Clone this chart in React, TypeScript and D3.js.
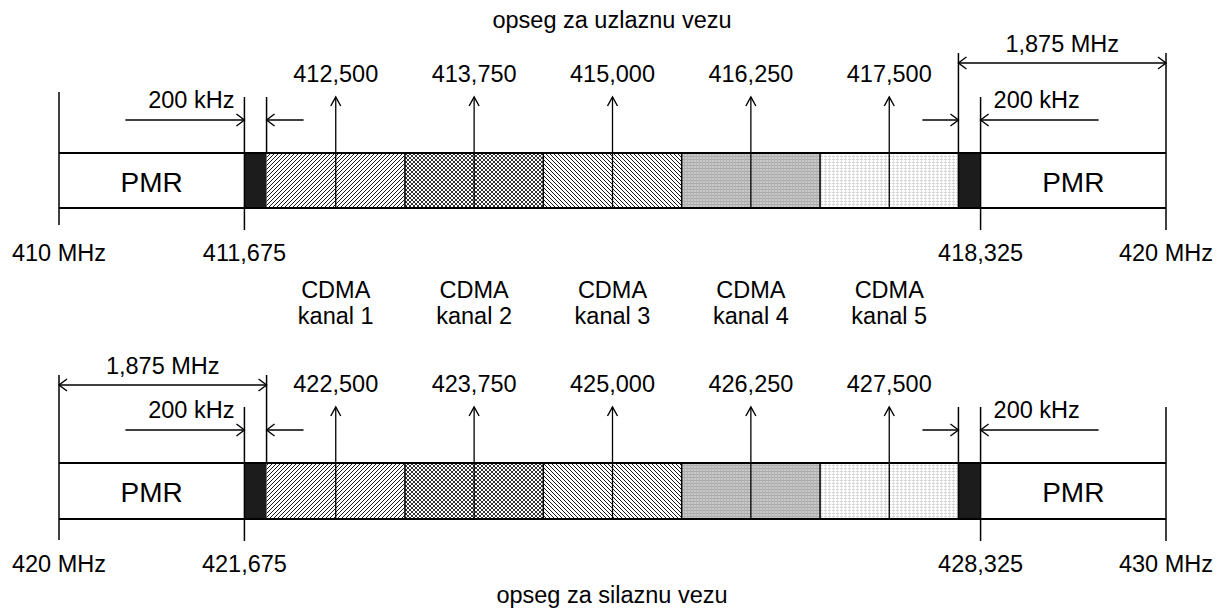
import React from "react";
import * as d3 from "d3";

// ---- data ----
const bandStarts = [410, 420];
const bandEnds = [420, 430];
const guardLeft = [411.675, 421.675];
const guardRight = [418.325, 428.325];
const guardWidth = 0.2;
const channelWidth = 1.25;
const channelCenters = [
  [412.5, 413.75, 415.0, 416.25, 417.5],
  [422.5, 423.75, 425.0, 426.25, 427.5],
];
const channelLabels = [
  ["412,500", "413,750", "415,000", "416,250", "417,500"],
  ["422,500", "423,750", "425,000", "426,250", "427,500"],
];
const edgeLabels = [
  ["410 MHz", "411,675", "418,325", "420 MHz"],
  ["420 MHz", "421,675", "428,325", "430 MHz"],
];
const channelNames = ["kanal 1", "kanal 2", "kanal 3", "kanal 4", "kanal 5"];
const bandTitles = ["opseg za uzlaznu vezu", "opseg za silaznu vezu"];
const pmrLabel = "PMR";
const guardLabel = "200 kHz";
const spanLabel = "1,875 MHz";
const patternIds = ["p1", "p2", "p3", "p4", "p5"];

// ---- layout ----
const W = 1218;
const H = 609;
const X0 = 59;
const X1 = 1166;
const bandTop = [153, 463];
const bandBottom = [208, 519];
const FONT = "'Liberation Sans', Arial, sans-serif";
const FS = 23.5;

function Arrow({ x, y, dir, len = 8, half = 6 }: { x: number; y: number; dir: "left" | "right" | "up"; len?: number; half?: number }) {
  let d = "";
  if (dir === "right") d = `M${x - len},${y - half}L${x},${y}L${x - len},${y + half}`;
  if (dir === "left") d = `M${x + len},${y - half}L${x},${y}L${x + len},${y + half}`;
  if (dir === "up") d = `M${x - half},${y + len}L${x},${y}L${x + half},${y + len}`;
  return <path d={d} fill="none" stroke="#000" strokeWidth={1.4} />;
}

function Band({ b }: { b: number }) {
  const x = d3.scaleLinear().domain([bandStarts[b], bandEnds[b]]).range([X0, X1]);
  const T = bandTop[b];
  const B = bandBottom[b];
  const gL0 = x(guardLeft[b]);
  const gL1 = x(guardLeft[b] + guardWidth);
  const gR1 = x(guardRight[b]);
  const gR0 = x(guardRight[b] - guardWidth);
  const xs = x(bandStarts[b]);
  const xe = x(bandEnds[b]);
  const spanOnRight = b === 0;
  const spanY = b === 0 ? T - 90 : T - 78;
  const spanTop = spanY - 10;
  const dimY = T - 33;
  const lw = 1.5;
  const line = (x1: number, y1: number, x2: number, y2: number, key: string, w = lw) => (
    <line key={key} x1={x1} y1={y1} x2={x2} y2={y2} stroke="#000" strokeWidth={w} />
  );
  const ch = channelCenters[b];
  return (
    <g>
      {ch.map((c, i) => (
        <rect
          key={"ch" + i}
          x={x(c - channelWidth / 2)}
          y={T}
          width={x(c + channelWidth / 2) - x(c - channelWidth / 2)}
          height={B - T}
          fill={`url(#${patternIds[i]})`}
        />
      ))}
      <rect x={gL0} y={T} width={gL1 - gL0} height={B - T} fill="#1c1c1c" />
      <rect x={gR0} y={T} width={gR1 - gR0} height={B - T} fill="#1c1c1c" />
      {ch.map((c, i) => line(x(c + channelWidth / 2), T, x(c + channelWidth / 2), B, "cb" + i))}
      {line(xs, T, xe, T, "bt", 2)}
      {line(xs, B, xe, B, "bb", 2)}
      {line(xs, spanOnRight ? T - 61 : spanTop, xs, spanOnRight ? B + 17 : B + 21, "vxs")}
      {line(gL0, T - 56, gL0, B + 22, "vgl0")}
      {line(gL1, spanOnRight ? T - 56 : spanTop, gL1, T, "vgl1")}
      {line(gR0, spanOnRight ? spanTop : T - 56, gR0, T, "vgr0")}
      {line(gR1, T - 56, gR1, B + 22, "vgr1")}
      {line(xe, spanOnRight ? spanTop : T - 56, xe, B + 22, "vxe")}
      {ch.map((c, i) => (
        <g key={"ca" + i}>
          {line(x(c), B, x(c), T - 56, "cl" + i, 1.3)}
          <Arrow x={x(c)} y={T - 56} dir="up" len={9} half={5} />
          <text x={x(c)} y={T - 71} textAnchor="middle" fontSize={FS} fontFamily={FONT}>
            {channelLabels[b][i]}
          </text>
        </g>
      ))}
      {line(gL0 - 119, dimY, gL0, dimY, "dl1", 1.3)}
      <Arrow x={gL0} y={dimY} dir="right" />
      {line(gL1, dimY, gL1 + 37, dimY, "dl2", 1.3)}
      <Arrow x={gL1} y={dimY} dir="left" />
      <text x={gL0 - 10} y={T - 45} textAnchor="end" fontSize={FS} fontFamily={FONT}>
        {guardLabel}
      </text>
      {line(gR0 - 36, dimY, gR0, dimY, "dr1", 1.3)}
      <Arrow x={gR0} y={dimY} dir="right" />
      {line(gR1, dimY, gR1 + 118, dimY, "dr2", 1.3)}
      <Arrow x={gR1} y={dimY} dir="left" />
      <text x={gR1 + 13} y={T - 45} textAnchor="start" fontSize={FS} fontFamily={FONT}>
        {guardLabel}
      </text>
      {(() => {
        const a = spanOnRight ? gR0 : xs;
        const e = spanOnRight ? xe : gL1;
        return (
          <g>
            {line(a, spanY, e, spanY, "sp", 1.3)}
            <Arrow x={a} y={spanY} dir="left" />
            <Arrow x={e} y={spanY} dir="right" />
            <text x={(a + e) / 2} y={spanY - 11} textAnchor="middle" fontSize={FS} fontFamily={FONT}>
              {spanLabel}
            </text>
          </g>
        );
      })()}
      <text x={(xs + gL0) / 2} y={T + 39} textAnchor="middle" fontSize={28} fontFamily={FONT}>
        {pmrLabel}
      </text>
      <text x={(gR1 + xe) / 2} y={T + 39} textAnchor="middle" fontSize={28} fontFamily={FONT}>
        {pmrLabel}
      </text>
      {[xs, gL0, gR1, xe].map((px, i) => (
        <text key={"el" + i} x={px} y={B + 53} textAnchor="middle" fontSize={FS} fontFamily={FONT}>
          {edgeLabels[b][i]}
        </text>
      ))}
    </g>
  );
}

export default function App() {
  const xTop = d3.scaleLinear().domain([bandStarts[0], bandEnds[0]]).range([X0, X1]);
  return (
    <svg width={W} height={H} style={{ position: "absolute", left: 0, top: 0, background: "#fff" }}>
      <defs>
        <pattern id="p1" patternUnits="userSpaceOnUse" width={4} height={4}>
          <rect width={4} height={4} fill="#fff" />
          <path d="M-1,1L1,-1M0,4L4,0M3,5L5,3" stroke="#000" strokeWidth={0.9} />
        </pattern>
        <pattern id="p2" patternUnits="userSpaceOnUse" width={4} height={4}>
          <rect width={4} height={4} fill="#fff" />
          <path d="M-1,1L1,-1M0,4L4,0M3,5L5,3M-1,3L1,5M0,0L4,4M3,-1L5,1" stroke="#000" strokeWidth={0.8} />
        </pattern>
        <pattern id="p3" patternUnits="userSpaceOnUse" width={4} height={4}>
          <rect width={4} height={4} fill="#fff" />
          <path d="M-1,3L1,5M0,0L4,4M3,-1L5,1" stroke="#000" strokeWidth={0.9} />
        </pattern>
        <pattern id="p4" patternUnits="userSpaceOnUse" width={3} height={3}>
          <rect width={3} height={3} fill="#c8c8c8" />
          <rect y={0} width={3} height={1} fill="#a9a9a9" />
          <rect x={0} width={1} height={3} fill="#b4b4b4" />
        </pattern>
        <pattern id="p5" patternUnits="userSpaceOnUse" width={4} height={3}>
          <rect width={4} height={3} fill="#fff" />
          <rect y={0} width={3} height={1} fill="#d4d4d4" />
          <rect x={1} y={1} width={1} height={2} fill="#e6e6e6" />
        </pattern>
      </defs>
      <rect width={W} height={H} fill="#fff" />
      <text x={612} y={28} textAnchor="middle" fontSize={FS} fontFamily={FONT}>
        {bandTitles[0]}
      </text>
      <Band b={0} />
      {channelCenters[0].map((c, i) => (
        <g key={"cn" + i}>
          <text x={xTop(c)} y={298} textAnchor="middle" fontSize={FS} fontFamily={FONT}>
            CDMA
          </text>
          <text x={xTop(c)} y={324} textAnchor="middle" fontSize={FS} fontFamily={FONT}>
            {channelNames[i]}
          </text>
        </g>
      ))}
      <Band b={1} />
      <text x={612} y={603} textAnchor="middle" fontSize={FS} fontFamily={FONT}>
        {bandTitles[1]}
      </text>
    </svg>
  );
}
